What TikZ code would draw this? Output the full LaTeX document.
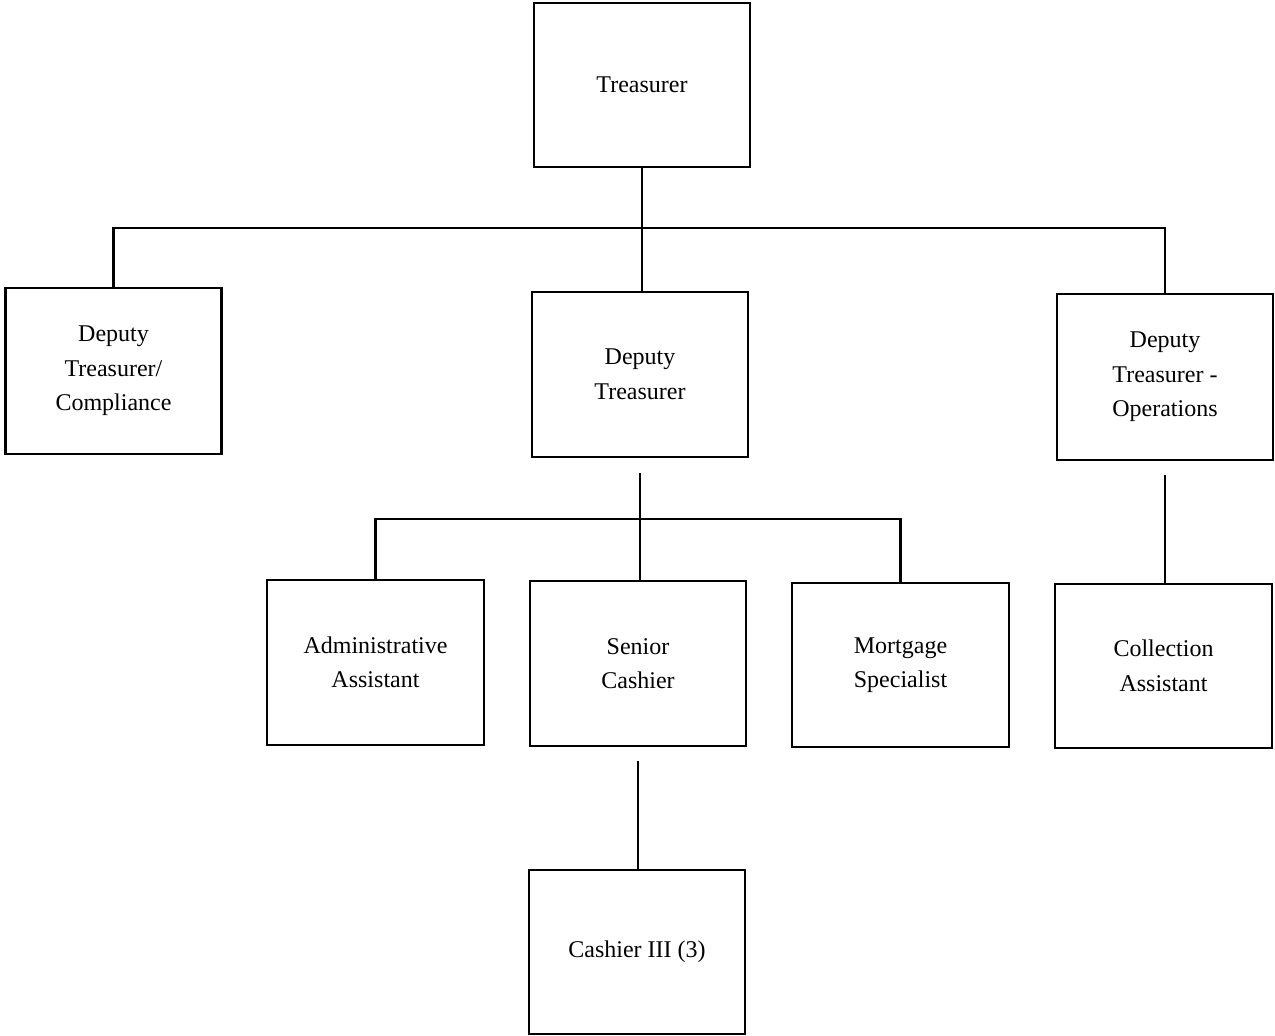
\documentclass[tikz,border=0pt]{standalone}
\usepackage{fontspec}
\setmainfont{Liberation Serif}
\begin{document}
\begin{tikzpicture}[x=1pt,y=-1pt,
  box/.style={draw,line width=2.2pt,minimum width=216pt,minimum height=164pt,
    align=center,font=\fontsize{24}{34.5}\selectfont,inner sep=0pt},
  conn/.style={line width=2.2pt}]
\useasboundingbox (0,0) rectangle (1275,1036);
\node[box] (T) at (642,85) {Treasurer};
\node[box,minimum height=166pt] (DTC) at (113.5,371) {Deputy\\Treasurer/\\Compliance};
\node[box,minimum height=165pt] (DT) at (640,374.5) {Deputy\\Treasurer};
\node[box,minimum height=166pt] (DTO) at (1165,377) {Deputy\\Treasurer -\\Operations};
\node[box,minimum height=165pt,minimum width=217pt] (AA) at (375.5,662.5) {Administrative\\Assistant};
\node[box,minimum height=165pt] (SC) at (638,663.5) {Senior\\Cashier};
\node[box,minimum width=217pt] (MS) at (900.5,665) {Mortgage\\Specialist};
\node[box,minimum width=217pt] (CA) at (1163.5,666) {Collection\\Assistant};
\node[box] (C3) at (637,952) {Cashier III (3)};
\coordinate (bar1) at (0,228);
\coordinate (bar2) at (0,519);
\draw[conn] (T.south) -- (T.south |- DT.north);
\draw[conn] (DTC.north) |- (DTO.north |- bar1) -- (DTO.north);
\draw[conn,shorten <=15pt] (DT.south) -- (DT.south |- SC.north);
\draw[conn] (AA.north) |- (MS.north |- bar2) -- (MS.north);
\draw[conn,shorten <=14pt] (DTO.south) -- (DTO.south |- CA.north);
\draw[conn,shorten <=14pt] (SC.south) -- (SC.south |- C3.north);
\end{tikzpicture}
\end{document}
